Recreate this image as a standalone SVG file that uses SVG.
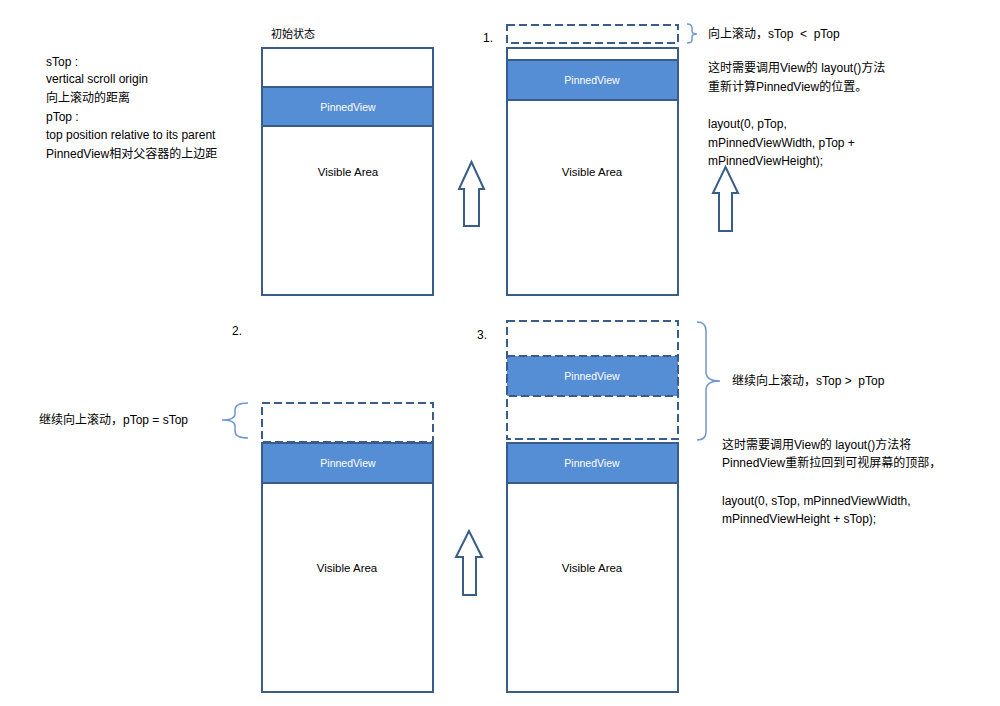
<svg xmlns="http://www.w3.org/2000/svg" width="1000" height="706" viewBox="0 0 1000 706">
<style>
text{font-family:"Liberation Sans","Noto Sans CJK SC",sans-serif;font-size:12px;fill:#000;white-space:pre}
.box{fill:#fff;stroke:#385D8A;stroke-width:2}
.dash{fill:none;stroke:#385D8A;stroke-width:2;stroke-dasharray:8,4}
.pin{fill:#558ED5;stroke:#385D8A;stroke-width:2}
.pind{fill:#558ED5;stroke:#385D8A;stroke-width:2;stroke-dasharray:8,4}
.pt{fill:#fff;font-size:10.5px;text-anchor:middle}
.va{font-size:11.5px;text-anchor:middle}
.brace{fill:none;stroke:#7098CC;stroke-width:1.5}
.arrow{fill:#fff;stroke:#385D8A;stroke-width:2}
</style>
<rect width="1000" height="706" fill="#fff"/>
<g id="notes">
<text x="46" y="66">sTop :</text>
<text x="46" y="83">vertical scroll origin</text>
<text x="46" y="102">向上滚动的距离</text>
<text x="46" y="121">pTop :</text>
<text x="46" y="139">top position relative to its parent</text>
<text x="46" y="158">PinnedView相对父容器的上边距</text>
</g>
<g id="panel0">
<text x="271" y="38" style="font-size:11px">初始状态</text>
<rect class="box" x="262" y="48" width="171" height="247"/>
<rect class="pin" x="262" y="87" width="171" height="39"/>
<text class="pt" x="348" y="111">PinnedView</text>
<text class="va" x="348" y="176">Visible Area</text>
</g>
<g id="panel1">
<text x="483" y="42">1.</text>
<rect class="dash" x="507" y="25" width="171" height="18"/>
<rect class="box" x="507" y="48" width="171" height="247"/>
<rect class="pin" x="507" y="60" width="171" height="40"/>
<text class="pt" x="592" y="84">PinnedView</text>
<text class="va" x="592" y="176">Visible Area</text>
<text x="708" y="38" xml:space="preserve">向上滚动，sTop  &lt;  pTop</text>
<text x="708" y="72">这时需要调用View的 layout()方法</text>
<text x="708" y="91">重新计算PinnedView的位置。</text>
<text x="708" y="128">layout(0, pTop,</text>
<text x="708" y="147">mPinnedViewWidth, pTop +</text>
<text x="708" y="165">mPinnedViewHeight);</text>
</g>
<g id="panel2">
<text x="232" y="335">2.</text>
<rect class="dash" x="262" y="403" width="171" height="39"/>
<rect class="box" x="262" y="443" width="171" height="249"/>
<rect class="pin" x="262" y="443" width="171" height="40"/>
<text class="pt" x="348" y="467">PinnedView</text>
<text class="va" x="347" y="572">Visible Area</text>
<text x="39" y="424">继续向上滚动，pTop = sTop</text>
</g>
<g id="panel3">
<text x="477" y="339">3.</text>
<rect class="dash" x="507" y="321" width="171" height="118"/>
<rect class="pind" x="507" y="356" width="171" height="40"/>
<text class="pt" x="592" y="380">PinnedView</text>
<rect class="box" x="507" y="443" width="171" height="249"/>
<rect class="pin" x="507" y="443" width="171" height="40"/>
<text class="pt" x="592" y="467">PinnedView</text>
<text class="va" x="592" y="572">Visible Area</text>
<text x="732" y="385" xml:space="preserve">继续向上滚动，sTop &gt;  pTop</text>
<text x="722" y="449">这时需要调用View的 layout()方法将</text>
<text x="722" y="467">PinnedView重新拉回到可视屏幕的顶部，</text>
<text x="722" y="505">layout(0, sTop, mPinnedViewWidth,</text>
<text x="722" y="523">mPinnedViewHeight + sTop);</text>
</g>
<g id="connectors">
<path class="brace" d="M687,24 Q692,24 692,28 L692,31 Q692,34 697,34 Q692,34 692,37 L692,40 Q692,43 687,43"/>
<path class="brace" d="M697,322 Q706,322 706,331 L706,372 Q706,381 720,381 Q706,381 706,390 L706,432 Q706,440 697,440"/>
<path class="brace" d="M248,403 Q235,403 235,410 L235,414 Q235,420 222,420 Q235,420 235,426 L235,431 Q235,438 248,438"/>
<path class="arrow" d="M471.5,162 L484,189 L479,189 L479,226 L464,226 L464,189 L459,189 Z"/>
<path class="arrow" d="M725.5,167 L738,193 L732,193 L732,231 L719,231 L719,193 L713,193 Z"/>
<path class="arrow" d="M469,531 L482,557 L476,557 L476,595 L463,595 L463,557 L456,557 Z"/>
</g>
</svg>
